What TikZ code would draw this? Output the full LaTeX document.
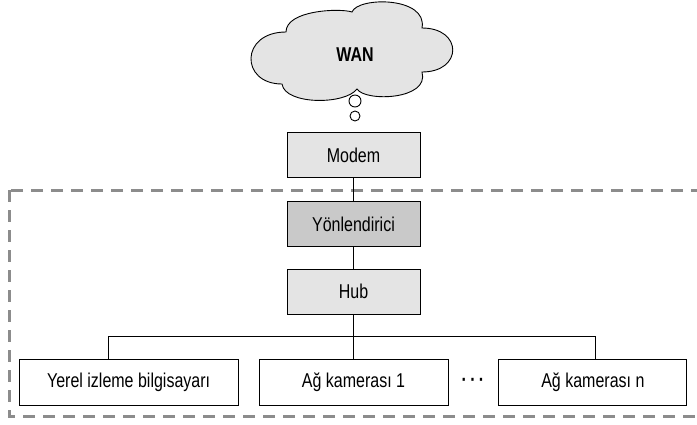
\documentclass[tikz,border=0pt]{standalone}
\usepackage{fontspec}
\setmainfont{Liberation Sans}[FakeStretch=0.8]
\usetikzlibrary{positioning}

\definecolor{boxgray}{HTML}{E4E4E4}
\definecolor{routergray}{HTML}{C9C9C9}
\definecolor{dashgray}{HTML}{8C8C8C}

\begin{document}
\begin{tikzpicture}[x=1pt, y=1pt,
    font=\fontsize{20}{22}\selectfont,
    device/.style={draw, line width=0.9pt, fill=boxgray, minimum width=133pt, minimum height=45pt, inner sep=0pt},
    endpoint/.style={draw, line width=0.9pt, fill=white, minimum height=46pt, inner sep=0pt},
    bubble/.style={circle, draw, line width=0.9pt, fill=white, inner sep=0pt},
    link/.style={line width=0.9pt}]

    \useasboundingbox (0,0) rectangle (697,-424);

    % LAN frame
    \begin{scope}
      \clip (0,0) rectangle (697,-424);
      \draw[dashgray, line width=3pt, dash pattern=on 12pt off 8pt] (9,-190) rectangle (720,-416);
    \end{scope}

    % WAN cloud
    \draw[line width=0.9pt, fill=boxgray]
      (282,-84) .. controls (240,-84) and (240,-32) .. (286,-32)
                .. controls (286,-10) and (340,-8) .. (352,-12)
                .. controls (358,3.5) and (428,3.5) .. (422,-28)
                .. controls (463,-28) and (463,-72) .. (422,-72)
                .. controls (430,-100) and (365,-102) .. (357,-89)
                .. controls (345,-105) and (285,-105) .. (282,-84) -- cycle;
    \node[font=\fontsize{20}{22}\selectfont\bfseries] (wan) at (355,-55) {WAN};
    \node[bubble, minimum size=12pt] (bubble_a) at (355,-101) {};
    \node[bubble, minimum size=10pt] (bubble_b) at (355,-116) {};

    % Define nodes
    \node[device]                               (modem) at (353.5,-155) {Modem};
    \node[device, fill=routergray, below=23pt of modem] (router) {Yönlendirici};
    \node[device, below=22pt of router]         (hub) {Hub};

    % end devices
    \node[endpoint, minimum width=189pt, below=44pt of hub]    (cam_one) {Ağ kamerası 1};
    \node[endpoint, minimum width=219pt, left=20pt of cam_one] (pc_local) {Yerel izleme bilgisayarı};
    \node[endpoint, minimum width=188pt, right=50pt of cam_one] (cam_n) {Ağ kamerası n};
    \node[right=13pt of cam_one, inner sep=0pt]                (dots) {\bfseries ·\,·\,·};

    % Connect the nodes
    \coordinate[below=22pt of hub] (bus);
    \draw[link] (modem) -- (router);
    \draw[link] (router) -- (hub);
    \draw[link] (hub) -- (cam_one);
    \draw[link] ([xshift=-20pt]pc_local.north) |- (bus) -| ([xshift=3pt]cam_n.north);

\end{tikzpicture}
\end{document}
